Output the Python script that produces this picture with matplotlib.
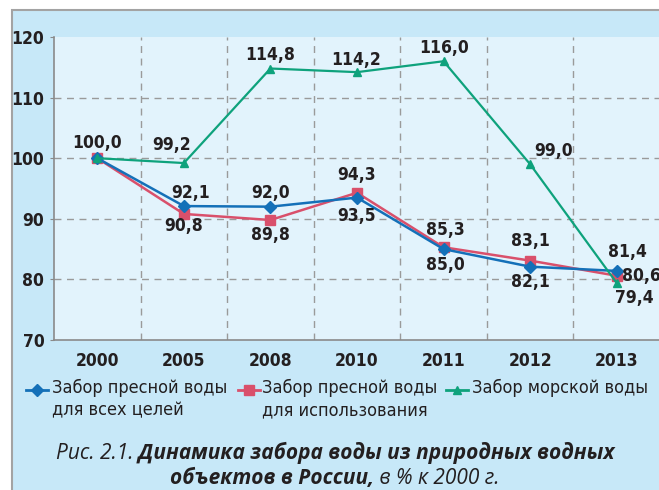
import matplotlib
matplotlib.use('Agg')
import matplotlib.pyplot as plt
from matplotlib.lines import Line2D
from matplotlib.patches import Rectangle
from matplotlib import font_manager
from matplotlib.font_manager import FontProperties

years = ['2000', '2005', '2008', '2010', '2011', '2012', '2013']
fresh_all = [100.0, 92.1, 92.0, 93.5, 85.0, 82.1, 81.4]
fresh_use = [100.0, 90.8, 89.8, 94.3, 85.3, 83.1, 80.6]
sea = [100.0, 99.2, 114.8, 114.2, 116.0, 99.0, 79.4]

legend_labels = ['Забор пресной воды\nдля всех целей',
                 'Забор пресной воды\nдля использования',
                 'Забор морской воды']
caption_line1 = [('Рис. 2.1.', 'normal'), (' Динамика забора воды из природных водных', 'bold')]
caption_line2 = [('объектов в России,', 'bold'), (' в % к 2000 г.', 'normal')]


def find_font(keys, bold):
    # look for a condensed face by file name
    for k in keys:
        for f in font_manager.fontManager.ttflist:
            fn = f.fname.replace(' ', '').replace('-', '').replace('_', '')
            if k.lower() in fn.lower() and f.style == 'normal':
                isbold = f.weight in ('bold', 700, 600) or 'bold' in fn.lower()
                if isbold == bold:
                    return f.fname
    return None


cond_keys = ['LiberationSansNarrow', 'DejaVuSansCondensed', 'RobotoCondensed', 'OpenSansCondensed']
reg_file = find_font(cond_keys, False)
bold_file = find_font(cond_keys, True)
HAVE_COND = reg_file is not None and bold_file is not None
if HAVE_COND:
    FP_REG = lambda size: FontProperties(fname=reg_file, size=size)
    FP_BOLD = lambda size: FontProperties(fname=bold_file, size=size)
    SCALE = 1.0
else:
    FP_REG = lambda size: FontProperties(family='DejaVu Sans', size=size)
    FP_BOLD = lambda size: FontProperties(family='DejaVu Sans', weight='bold', size=size)
    SCALE = 0.85
WIDE = ['Open Sans', 'DejaVu Sans']

BLUE = '#1470b8'
RED = '#d9506b'
GREEN = '#0ea27c'
TXT = '#231f20'
GRID = '#9a9a9a'

W, H = 659, 490
fig = plt.figure(figsize=(W / 100, H / 100), dpi=100)
fig.patch.set_facecolor('white')

# outer light-blue panel with grey border
fig.add_artist(Rectangle((12 / W, -0.05), 1.0, 1 - 10 / H + 0.05, transform=fig.transFigure,
                         facecolor='#c7e8f8', edgecolor='#a3a3a3', linewidth=1.5, zorder=0))

ax = fig.add_axes([54 / W, 1 - 340 / H, (660 - 54) / W, (340 - 37) / H])
ax.set_facecolor('#e2f3fc')
x = list(range(len(years)))

ax.plot(x, fresh_all, color=BLUE, lw=1.8, marker='D', ms=6, zorder=4)
ax.plot(x, fresh_use, color=RED, lw=1.8, marker='s', ms=7, zorder=3)
ax.plot(x, sea, color=GREEN, lw=1.6, marker='^', ms=6, zorder=5)

ax.set_xlim(-0.5, 6.5)
ax.set_ylim(70, 120)
ax.set_yticks([70, 80, 90, 100, 110, 120])
ax.set_xticks(x)
ax.set_xticklabels(years)
ax.grid(False)
for v in [80, 90, 100, 110]:
    ax.axhline(v, color=GRID, lw=1, ls=(0, (5, 4)), zorder=1)
for v in [i + 0.5 for i in range(6)]:
    ax.axvline(v, color=GRID, lw=1, ls=(0, (5, 4)), zorder=1)

for s in ['top', 'right']:
    ax.spines[s].set_visible(False)
for s in ['left', 'bottom']:
    ax.spines[s].set_color('#8a8a8a')
    ax.spines[s].set_linewidth(1.2)
ax.tick_params(axis='y', length=3, color='#8a8a8a', pad=4)
ax.tick_params(axis='x', which='both', length=0, pad=9)
for lab in ax.get_xticklabels() + ax.get_yticklabels():
    lab.set_fontproperties(FP_BOLD(12.5 * SCALE))
    lab.set_color(TXT)

# data label offsets in pixels
offsets_all = [None, (7, 13), (0, 14), (0, -18), (2, -16), (0, -15), (11, 19)]
offsets_use = [(0, 15), (0, -12), (0, -15), (0, 18), (2, 17), (0, 20), (5, 0)]
offsets_sea = [None, (-12, 18), (0, 14), (-1, 12), (0, 13), (4, 13), (-2, -15)]


def fmt(v):
    return f'{v:.1f}'.replace('.', ',')


for vals, offs in [(fresh_all, offsets_all), (fresh_use, offsets_use), (sea, offsets_sea)]:
    for i, (v, o) in enumerate(zip(vals, offs)):
        if o is None:
            continue
        ha = 'center'
        if (vals is sea and i in (5, 6)) or (vals is fresh_use and i == 6):
            ha = 'left'
        ax.annotate(fmt(v), (i, v), xytext=o, textcoords='offset pixels',
                    ha=ha, va='center', fontproperties=FP_BOLD(12.5 * SCALE),
                    color=TXT, zorder=6, annotation_clip=False)

# legend
colors = [BLUE, RED, GREEN]
markers = ['D', 's', '^']
msize = [6, 7, 6]
hx = [26, 238, 446]
tx = [52, 262, 472]
for c, m, s, h0, t0, lab in zip(colors, markers, msize, hx, tx, legend_labels):
    fig.add_artist(Line2D([h0 / W, (h0 + 22) / W], [1 - 390 / H] * 2, transform=fig.transFigure,
                          color=c, lw=2))
    fig.add_artist(Line2D([(h0 + 11) / W], [1 - 390 / H], transform=fig.transFigure,
                          color=c, marker=m, ms=s, lw=0))
    fig.text(t0 / W, 1 - 379 / H, lab, ha='left', va='top', fontproperties=FP_REG(13 * SCALE),
             color=TXT, linespacing=1.3)

# caption with mixed weights
renderer = fig.canvas.get_renderer()


def rich_line(segments, xc, y):
    texts = [fig.text(0, y, s, fontsize=15, fontweight=w, style='italic',
                      fontfamily=WIDE, color=TXT, va='baseline') for s, w in segments]
    widths = [t.get_window_extent(renderer).width for t in texts]
    xpos = xc - sum(widths) / 2
    for t, w in zip(texts, widths):
        t.set_x(xpos / W)
        xpos += w


rich_line(caption_line1, 335, 1 - 459 / H)
rich_line(caption_line2, 335, 1 - 484 / H)

fig.savefig('out.png', dpi=100)
